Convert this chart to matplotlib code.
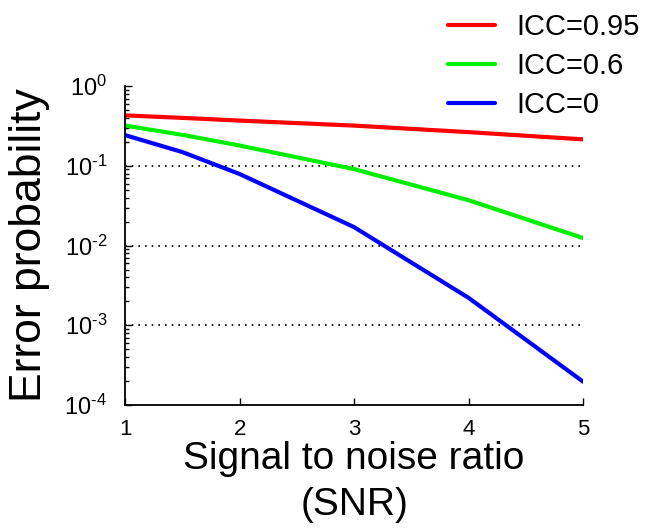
import numpy as np
import matplotlib
matplotlib.use('Agg')
import matplotlib.pyplot as plt
from matplotlib.ticker import LogLocator, NullFormatter

plt.rcParams['font.family'] = ['Liberation Sans', 'DejaVu Sans']
plt.rcParams['mathtext.fontset'] = 'custom'
plt.rcParams['mathtext.rm'] = 'Liberation Sans'
plt.rcParams['mathtext.it'] = 'Liberation Sans'

# Error probability vs SNR for three ICC values
snr = [1, 1.5, 2, 3, 4, 5]
icc_095 = [0.43, 0.40, 0.37, 0.32, 0.265, 0.215]
icc_06 = [0.32, 0.245, 0.18, 0.091, 0.037, 0.0124]
icc_0 = [0.243, 0.149, 0.079, 0.017, 0.0022, 0.000195]
labels = ['ICC=0.95', 'ICC=0.6', 'ICC=0']
colors = ['#ff0000', '#00ee00', '#0000ff']
grid_levels = [1e-1, 1e-2, 1e-3]


def decade_label(v, pos):
    e = int(round(np.log10(v)))
    s = str(e).replace('-', '\u2010')  # short hyphen like the original
    return '$10^{%s}$' % s


fig = plt.figure(figsize=(6.48, 5.32), dpi=100)
ax = fig.add_axes([0.193, 0.239, 0.707, 0.599])

for ys, lab, c in zip([icc_095, icc_06, icc_0], labels, colors):
    ax.plot(snr, ys, color=c, lw=3, label=lab, solid_capstyle='round')

# dotted reference lines at the decades
ax.hlines(grid_levels, 1, 5, colors='black', linestyles=(0, (1, 3)), lw=1.2, zorder=0)

ax.set_yscale('log')
ax.set_xlim(1, 5)
ax.set_ylim(1e-4, 1)
ax.set_xticks([1, 2, 3, 4, 5])
ax.yaxis.set_major_locator(LogLocator(base=10, numticks=10))
ax.yaxis.set_minor_locator(LogLocator(base=10, subs=np.arange(2, 10), numticks=20))
ax.yaxis.set_minor_formatter(NullFormatter())
ax.yaxis.set_major_formatter(plt.FuncFormatter(decade_label))

ax.spines['top'].set_visible(False)
ax.spines['right'].set_visible(False)
ax.spines['left'].set_linewidth(1.3)
ax.spines['bottom'].set_linewidth(1.3)
ax.tick_params(which='both', direction='in', width=1)
ax.tick_params(which='major', length=5)
ax.tick_params(which='minor', length=3)
ax.tick_params(axis='y', labelsize=17, pad=13)
ax.tick_params(axis='x', labelsize=16, pad=10)

ax.set_ylabel('Error probability', fontsize=32, labelpad=10)
ax.set_xlabel('Signal to noise ratio\n(SNR)', fontsize=28, labelpad=1, linespacing=1.35)

fig.legend(loc='upper right', bbox_to_anchor=(1.028, 1.025), frameon=False,
           fontsize=21, handlelength=1.6, handletextpad=0.75, labelspacing=0.38)

fig.savefig('out.png', dpi=100)
